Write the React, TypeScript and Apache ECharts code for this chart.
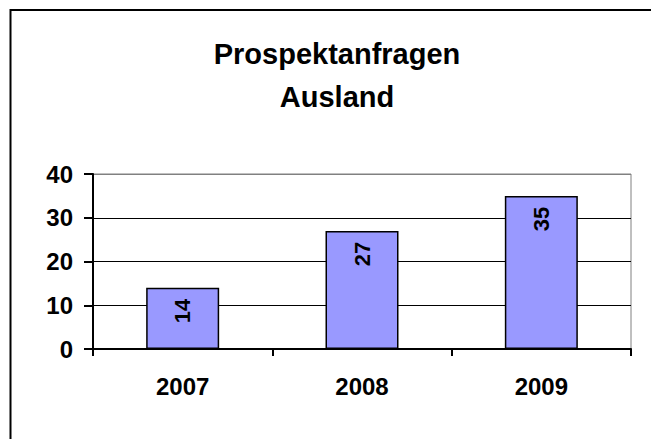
import React, { useEffect, useRef } from "react";
import * as echarts from "echarts";

const titleLines = ["Prospektanfragen", "Ausland"];
const categories = ["2007", "2008", "2009"];
const values = [14, 27, 35];
const yTicks = { min: 0, max: 40, interval: 10 };

export default function App() {
  const ref = useRef<HTMLDivElement>(null);
  useEffect(() => {
    if (!ref.current) return;
    const chart = echarts.init(ref.current, null, { renderer: "svg" });
    const font = "Liberation Sans, Arial, sans-serif";
    chart.setOption({
      animation: false,
      backgroundColor: "#fff",
      graphic: [
        {
          type: "rect",
          shape: { x: 10.5, y: 10, width: 700, height: 500 },
          style: { fill: "none", stroke: "#000", lineWidth: 2 },
          z: 10,
        },
        {
          type: "text",
          x: 337,
          y: 75,
          style: {
            text: titleLines.join("\n"),
            fontFamily: font,
            fontWeight: "bold",
            fontSize: 29,
            lineHeight: 43,
            fill: "#000",
            align: "center",
            verticalAlign: "middle",
          },
        },
      ],
      grid: {
        left: 93,
        right: 20,
        top: 174,
        bottom: 90,
        show: true,
        borderColor: "#808080",
        borderWidth: 1,
        backgroundColor: "transparent",
      },
      xAxis: {
        type: "category",
        data: categories,
        axisLine: { lineStyle: { color: "#000", width: 2 } },
        axisTick: { show: true, length: 7, lineStyle: { color: "#000", width: 2 } },
        axisLabel: {
          margin: 25,
          color: "#000",
          fontFamily: font,
          fontWeight: "bold",
          fontSize: 24,
        },
      },
      yAxis: {
        type: "value",
        min: yTicks.min,
        max: yTicks.max,
        interval: yTicks.interval,
        axisLine: { show: true, lineStyle: { color: "#000", width: 2 } },
        axisTick: { show: true, length: 9, lineStyle: { color: "#000", width: 2 } },
        splitLine: {
          show: true,
          lineStyle: { color: ["#000", "#000", "#000", "#000", "#808080"], width: 1 },
        },
        axisLabel: {
          margin: 20,
          color: "#000",
          fontFamily: font,
          fontWeight: "bold",
          fontSize: 24,
        },
      },
      series: [
        {
          type: "bar",
          data: values,
          barWidth: 73,
          itemStyle: { color: "#9999FF", borderColor: "#000", borderWidth: 1.5 },
          label: {
            show: true,
            position: "insideTop",
            rotate: 90,
            align: "right",
            verticalAlign: "middle",
            distance: 11,
            color: "#000",
            fontFamily: font,
            fontWeight: "bold",
            fontSize: 22,
          },
        },
      ],
    });
    return () => chart.dispose();
  }, []);
  return (
    <div
      ref={ref}
      style={{ position: "absolute", left: 0, top: 0, width: 651, height: 439 }}
    />
  );
}
